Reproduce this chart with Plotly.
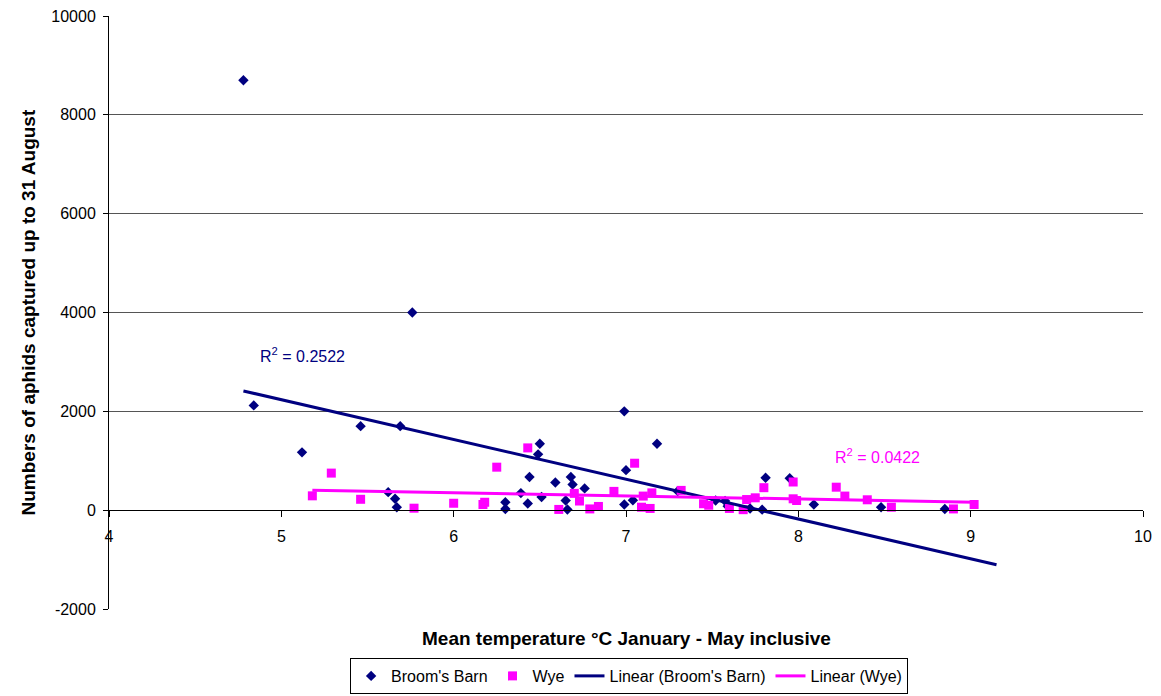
import numpy as np
import plotly.graph_objects as go

# ---- data ----
bb_temp = [4.78, 4.84, 5.12, 5.46, 5.62, 5.66, 5.67, 5.69, 5.76, 6.30, 6.30, 6.39, 6.43,
           6.44, 6.49, 6.50, 6.51, 6.59, 6.65, 6.66, 6.68, 6.69, 6.76, 6.99, 6.99, 7.00,
           7.04, 7.18, 7.30, 7.52, 7.575, 7.59, 7.72, 7.79, 7.81, 7.95, 8.09, 8.48, 8.85]
bb_aphids = [8700, 2120, 1170, 1700, 365, 230, 60, 1700, 4000, 160, 25, 345, 135,
             670, 1130, 1345, 265, 560, 195, 15, 670, 520, 440, 2000, 115, 810,
             200, 1345, 385, 195, 185, 80, 35, 10, 655, 645, 115, 60, 25]

wye_temp = [5.18, 5.29, 5.46, 5.77, 6.00, 6.17, 6.18, 6.25, 6.43, 6.61, 6.70, 6.73, 6.79,
            6.84, 6.93, 7.05, 7.09, 7.10, 7.14, 7.15, 7.32, 7.45, 7.48, 7.60, 7.68, 7.70,
            7.75, 7.80, 7.97, 7.97, 7.99, 8.22, 8.27, 8.40, 8.54, 8.90, 9.02]
wye_aphids = [290, 750, 220, 40, 140, 115, 160, 870, 1260, 15, 340, 185, 25,
              75, 380, 950, 60, 285, 35, 350, 400, 130, 100, 35, 10, 215,
              250, 455, 570, 230, 195, 465, 285, 210, 60, 25, 115]

bb_r2_label = "R<sup>2</sup> = 0.2522"
wye_r2_label = "R<sup>2</sup> = 0.0422"
bb_forward_forecast = 0.3  # trendline extended forward (as in the original)

x_ticks = [4, 5, 6, 7, 8, 9, 10]
y_ticks = [-2000, 0, 2000, 4000, 6000, 8000, 10000]

NAVY = "#000080"
MAGENTA = "#FF00FF"
FONT = "Liberation Sans, Arial, sans-serif"


def linear_fit(x, y, forward=0.0):
    m, b = np.polyfit(x, y, 1)
    xs = np.array([min(x), max(x) + forward])
    return xs, m * xs + b


bb_tx, bb_ty = linear_fit(bb_temp, bb_aphids, bb_forward_forecast)
wy_tx, wy_ty = linear_fit(wye_temp, wye_aphids)

fig = go.Figure()
fig.add_trace(go.Scatter(x=bb_temp, y=bb_aphids, mode="markers", name="Broom's Barn",
                         marker=dict(symbol="diamond", size=8, color=NAVY,
                                     line=dict(width=0))))
fig.add_trace(go.Scatter(x=wye_temp, y=wye_aphids, mode="markers", name="Wye",
                         marker=dict(symbol="square", size=9, color=MAGENTA,
                                     line=dict(width=0))))
fig.add_trace(go.Scatter(x=bb_tx, y=bb_ty, mode="lines", name="Linear (Broom's Barn)",
                         line=dict(color=NAVY, width=3)))
fig.add_trace(go.Scatter(x=wy_tx, y=wy_ty, mode="lines", name="Linear (Wye)",
                         line=dict(color=MAGENTA, width=3)))

fig.update_layout(
    width=1161, height=696,
    margin=dict(l=109, r=18, t=16, b=87, autoexpand=False),
    paper_bgcolor="white", plot_bgcolor="white",
    font=dict(family=FONT, size=16, color="black"),
    showlegend=True,
    legend=dict(orientation="h", x=0.503, xanchor="center", y=-0.1433, yanchor="bottom",
                bordercolor="black", borderwidth=1, bgcolor="white",
                font=dict(family=FONT, size=16, color="black"),
                itemwidth=30, tracegroupgap=0),
    xaxis=dict(range=[4, 10], tickvals=x_ticks, ticktext=[str(v) for v in x_ticks],
               anchor="free", position=2000 / 12000,
               showline=True, linecolor="black", linewidth=1,
               ticks="outside", ticklen=6, tickcolor="black", tickwidth=1,
               showgrid=False, zeroline=False, ticklabelstandoff=6,
               tickfont=dict(family=FONT, size=16, color="black")),
    yaxis=dict(range=[-2000, 10000], tickvals=y_ticks, ticktext=[str(v) for v in y_ticks],
               showline=True, linecolor="black", linewidth=1,
               ticks="outside", ticklen=5, tickcolor="black", tickwidth=1,
               showgrid=True, gridcolor="#555555", gridwidth=1.3,
               zeroline=False, ticklabelstandoff=4,
               tickfont=dict(family=FONT, size=16, color="black")),
    annotations=[
        dict(text="Mean temperature °C January - May inclusive", xref="paper", yref="paper",
             x=0.5, y=-0.049, xanchor="center", yanchor="middle", showarrow=False,
             font=dict(family=FONT, size=19, color="black", weight="bold")),
        dict(text="Numbers of aphids captured up to 31 August", xref="paper", yref="paper",
             x=-0.0774, y=0.5, xanchor="center", yanchor="middle", textangle=-90,
             showarrow=False,
             font=dict(family=FONT, size=19, color="black", weight="bold")),
        dict(text=bb_r2_label, x=5.12, y=3130, xref="x", yref="y", showarrow=False,
             font=dict(family=FONT, size=16, color=NAVY)),
        dict(text=wye_r2_label, x=8.46, y=1100, xref="x", yref="y", showarrow=False,
             font=dict(family=FONT, size=16, color=MAGENTA)),
    ],
)

fig.write_html("out.html")
